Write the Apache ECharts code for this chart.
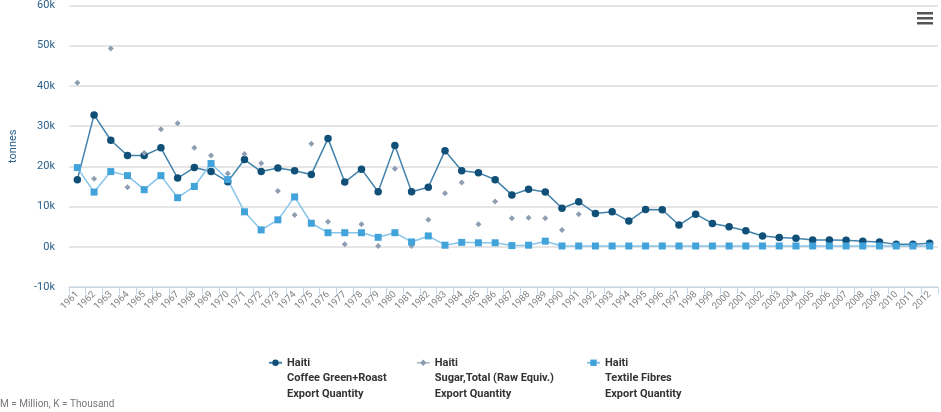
<!DOCTYPE html>
<html>
<head>
<meta charset="utf-8">
<script src="https://cdn.jsdelivr.net/npm/echarts@6/dist/echarts.min.js"></script>
<style>
  html, body { margin: 0; padding: 0; background: #fff; }
  #container { width: 941px; height: 412px; }
</style>
</head>
<body>
<div id="container"></div>
<script>
// years on the x axis
var years = [];
for (var y = 1961; y <= 2012; y++) years.push(String(y));

// values in thousand tonnes
var coffee = [16.7, 32.8, 26.5, 22.7, 22.7, 24.6, 17.1, 19.7, 18.7, 16.2,
  21.7, 18.7, 19.6, 18.9, 18.0, 26.9, 16.1, 19.3, 13.7, 25.2,
  13.7, 14.8, 23.9, 18.9, 18.4, 16.7, 12.9, 14.3, 13.6, 9.6,
  11.2, 8.3, 8.7, 6.4, 9.3, 9.2, 5.4, 8.1, 5.8, 5.0,
  4.0, 2.7, 2.3, 2.1, 1.7, 1.7, 1.6, 1.35, 1.2, 0.6,
  0.6, 0.9];
var sugar = [40.8, 16.9, 49.3, 14.8, 23.3, 29.2, 30.7, 24.6, 22.7, 18.2,
  23.1, 20.8, 13.9, 7.9, 25.6, 6.25, 0.6, 5.6, 0.2, 19.4,
  0.2, 6.7, 13.3, 16.0, 5.6, 11.25, 7.1, 7.2, 7.1, 4.2,
  8.1, null, null, null, null, null, null, null, null, null,
  null, null, null, null, null, null, null, null, null, null,
  null, null];
var textile = [19.7, 13.6, 18.7, 17.7, 14.2, 17.7, 12.2, 15.0, 20.7, 16.7,
  8.7, 4.2, 6.7, 12.4, 5.85, 3.5, 3.5, 3.5, 2.35, 3.5,
  1.2, 2.7, 0.4, 1.1, 1.0, 1.0, 0.3, 0.4, 1.4, 0.2,
  0.2, 0.2, 0.2, 0.2, 0.2, 0.2, 0.2, 0.2, 0.2, 0.2,
  0.2, 0.2, 0.2, 0.2, 0.2, 0.2, 0.2, 0.2, 0.2, 0.2,
  0.2, 0.2];

var names = ['Haiti\nCoffee Green+Roast\nExport Quantity',
  'Haiti\nSugar,Total (Raw Equiv.)\nExport Quantity',
  'Haiti\nTextile Fibres\nExport Quantity'];
var legendLeft = [263, 411, 581];

var toTonnes = function (arr) {
  return arr.map(function (v) { return v == null ? null : Math.round(v * 1000); });
};

// one legend per series so each sits where the picture has it;
// two blank lines in front keep the icon level with "Haiti"
var legends = names.map(function (n, i) {
  var item = { name: n };
  if (i === 1) item.lineStyle = { opacity: 1, width: 1.5, color: '#a9b6c6' };
  return {
    left: legendLeft[i],
    top: 319,
    itemWidth: 13,
    itemHeight: 8,
    itemGap: 4,
    formatter: function (name) { return '\n\n' + name; },
    textStyle: {
      fontFamily: 'Roboto',
      fontSize: 11,
      fontWeight: 'bold',
      color: '#333',
      lineHeight: 15.5
    },
    data: [item]
  };
});

var myChart = echarts.init(document.getElementById('container'));
var option = {
  animation: false,
  grid: { left: 67, right: 3, top: 5, bottom: 125 },
  legend: legends,
  xAxis: {
    type: 'category',
    data: years,
    boundaryGap: true,
    axisLine: { onZero: false, lineStyle: { color: '#c6d6e8' } },
    axisTick: { show: true, length: 7, lineStyle: { color: '#c6d6e8' } },
    axisLabel: {
      interval: 0,
      rotate: 45,
      fontFamily: 'Roboto',
      fontSize: 9.5,
      color: '#808080',
      margin: 6
    },
    splitLine: { show: false }
  },
  yAxis: {
    type: 'value',
    min: -10000,
    max: 60000,
    interval: 10000,
    name: 'tonnes',
    nameLocation: 'middle',
    nameGap: 50,
    nameTextStyle: { fontFamily: 'Roboto', fontSize: 11, color: '#2b5f8a' },
    axisLine: { show: false },
    axisTick: { show: false },
    axisLabel: {
      fontFamily: 'Roboto',
      fontSize: 11,
      color: '#2b5f8a',
      margin: 14,
      formatter: function (v) { return (v / 1000) + 'k'; }
    },
    splitLine: { lineStyle: { color: '#dcdcdc', width: 1.5 } }
  },
  series: [
    {
      name: names[0],
      type: 'line',
      data: toTonnes(coffee),
      symbol: 'circle',
      symbolSize: 7.5,
      itemStyle: { color: '#0f4f78' },
      lineStyle: { color: '#4282ab', width: 1.5 }
    },
    {
      name: names[1],
      type: 'line',
      data: toTonnes(sugar),
      symbol: 'diamond',
      symbolSize: 6,
      connectNulls: false,
      itemStyle: { color: '#8e9eb2' },
      lineStyle: { opacity: 0, width: 0 }
    },
    {
      name: names[2],
      type: 'line',
      data: toTonnes(textile),
      symbol: 'rect',
      symbolSize: 7,
      itemStyle: { color: '#42a3db' },
      lineStyle: { color: '#86c4ea', width: 1.5 }
    }
  ],
  graphic: [
    {
      type: 'group',
      right: 8,
      top: 12,
      children: [
        { type: 'rect', shape: { x: 0, y: 0, width: 16, height: 2.5 }, style: { fill: '#555' } },
        { type: 'rect', shape: { x: 0, y: 5, width: 16, height: 2.5 }, style: { fill: '#555' } },
        { type: 'rect', shape: { x: 0, y: 10, width: 16, height: 2.5 }, style: { fill: '#555' } }
      ]
    },
    {
      type: 'text',
      left: 0,
      top: 399,
      style: { text: 'M = Million, K = Thousand', font: '10px Roboto', fill: '#777' }
    }
  ]
};
myChart.setOption(option);
</script>
</body>
</html>
